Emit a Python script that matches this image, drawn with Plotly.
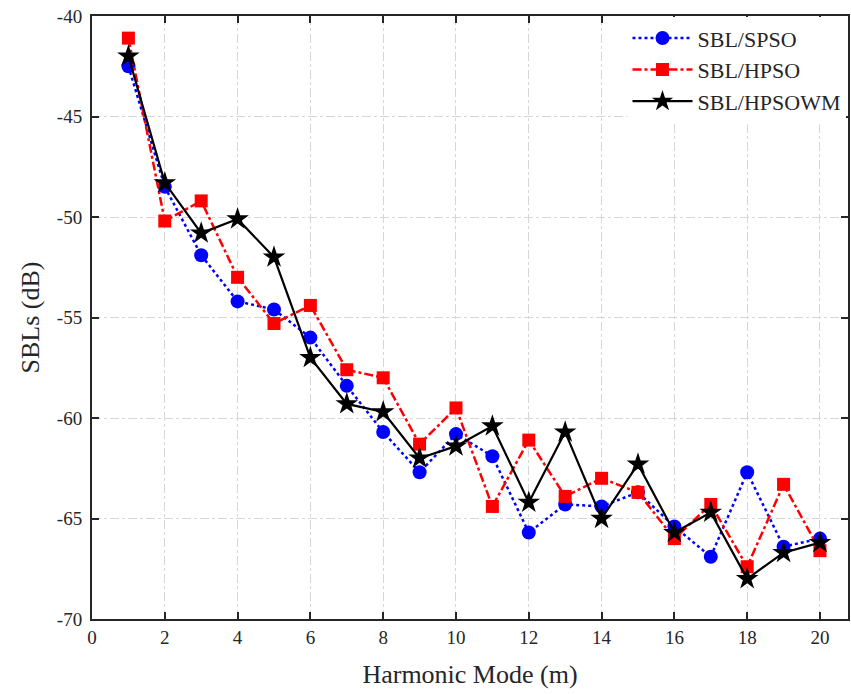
import plotly.graph_objects as go

modes = list(range(1, 21))
sbl_spso = [-42.5, -48.5, -51.9, -54.2, -54.6, -56.0, -58.4, -60.7, -62.7, -60.8,
            -61.9, -65.7, -64.3, -64.4, -63.7, -65.4, -66.9, -62.7, -66.4, -66.0]
sbl_hpso = [-41.1, -50.2, -49.2, -53.0, -55.3, -54.4, -57.6, -58.0, -61.3, -59.5,
            -64.4, -61.1, -63.9, -63.0, -63.7, -66.0, -64.3, -67.4, -63.3, -66.6]
sbl_hpsowm = [-42.0, -48.3, -50.8, -50.1, -52.0, -57.0, -59.3, -59.7, -62.0, -61.4,
              -60.4, -64.2, -60.7, -65.0, -62.3, -65.7, -64.7, -68.0, -66.7, -66.2]

x_ticks = list(range(0, 21, 2))
y_ticks = [-70, -65, -60, -55, -50, -45, -40]
y_ticktext = ["-70", "-65", "-60", "-55", "-50", "-45", "-40"]

FONT = "Liberation Serif"

fig = go.Figure()
fig.add_trace(go.Scatter(
    x=modes, y=sbl_spso, name="SBL/SPSO", mode="lines+markers",
    line=dict(color="#0000ff", width=2.5, dash="dot"),
    marker=dict(symbol="circle", size=14, color="#0000ff")))
fig.add_trace(go.Scatter(
    x=modes, y=sbl_hpso, name="SBL/HPSO", mode="lines+markers",
    line=dict(color="#ff0000", width=2.5, dash="dashdot"),
    marker=dict(symbol="square", size=13, color="#ff0000")))
fig.add_trace(go.Scatter(
    x=modes, y=sbl_hpsowm, name="SBL/HPSOWM", mode="lines+markers",
    line=dict(color="#000000", width=2.2),
    marker=dict(symbol="star", size=17, color="#000000")))

axis_common = dict(
    showline=True, linecolor="#262626", linewidth=2, mirror="ticks",
    ticks="inside", ticklen=7, tickwidth=1.5, tickcolor="#262626",
    showgrid=True, gridcolor="#d6d6d6", gridwidth=1, griddash="dashdot",
    zeroline=False, tickfont=dict(family=FONT, size=19, color="#262626"),
)

fig.update_xaxes(range=[0, 20.77], tickvals=x_ticks,
                 title=dict(text="Harmonic Mode (m)", font=dict(family=FONT, size=26, color="#262626"), standoff=18),
                 **axis_common)
fig.update_yaxes(range=[-70, -40], tickvals=y_ticks, ticktext=y_ticktext,
                 ticklabelstandoff=4,
                 title=dict(text="SBLs (dB)", font=dict(family=FONT, size=26, color="#262626"), standoff=10),
                 **axis_common)

fig.update_layout(
    width=851, height=694,
    margin=dict(l=92, r=1, t=16, b=75),
    plot_bgcolor="white", paper_bgcolor="white",
    font=dict(family=FONT, color="#262626"),
    legend=dict(x=0.998, y=0.998, xanchor="right", yanchor="top",
                bgcolor="white", borderwidth=0,
                font=dict(family=FONT, size=22, color="#262626"),
                itemwidth=60, tracegroupgap=0),
)

fig.write_html("out.html")
